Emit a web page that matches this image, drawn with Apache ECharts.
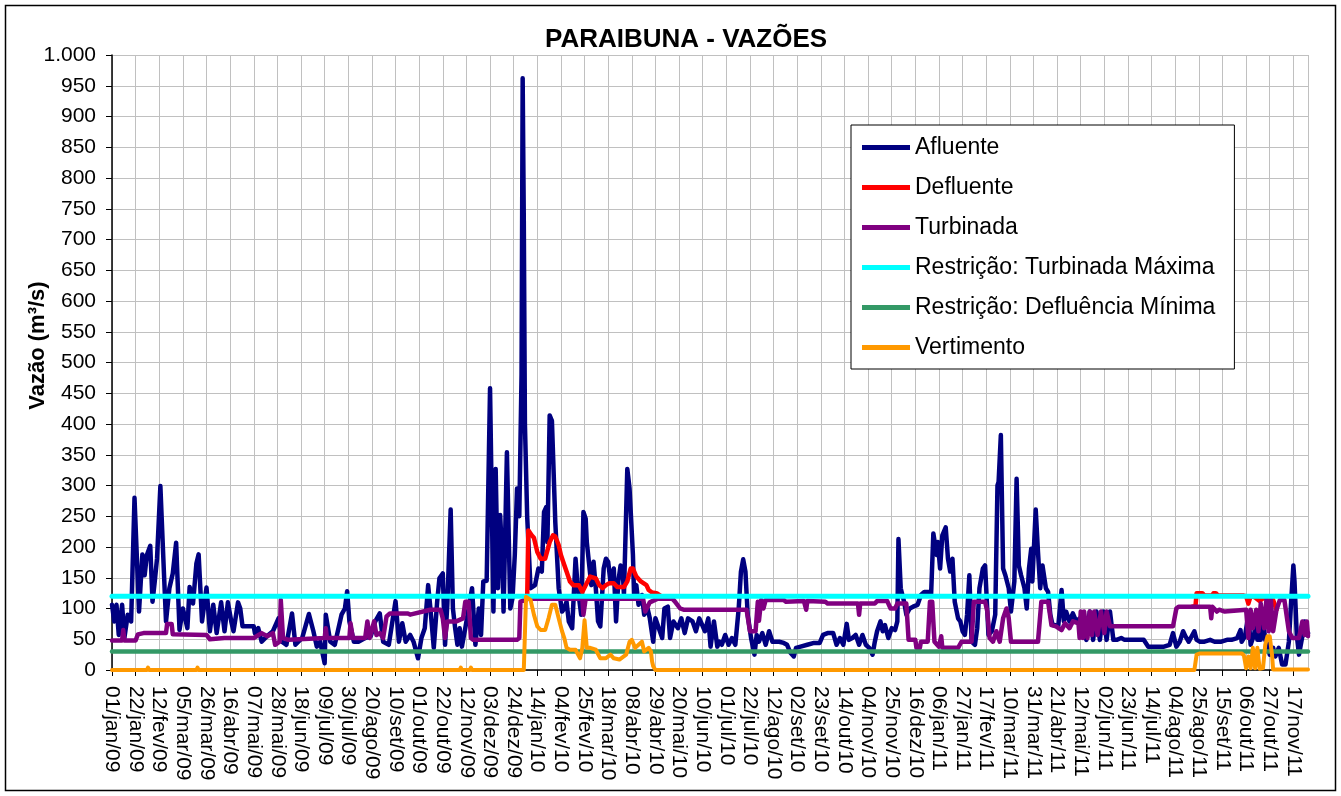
<!DOCTYPE html>
<html>
<head>
<meta charset="utf-8">
<title>Paraibuna - Vazões</title>
<script src="https://cdn.jsdelivr.net/npm/echarts/dist/echarts.min.js"></script>
<style>
  html, body { margin: 0; padding: 0; background: #fff; }
  #main { width: 1341px; height: 796px; }
</style>
</head>
<body>
<div id="main"></div>
<script>
// dias contados a partir de 01/jan/2009 -> [dia, vazão m³/s]
var START = [2009, 0, 1];
var LAST_DAY = 1063;
var MESES = ['jan', 'fev', 'mar', 'abr', 'mai', 'jun', 'jul', 'ago', 'set', 'out', 'nov', 'dez'];

var afluente = [
  [0,106],[2,79],[4,106],[6,57],[9,106],[11,52],[14,90],[17,79],[20,280],[24,95],[27,188],[29,154],[31,187],[34,202],[36,111],[38,144],[40,181],[43,299],[46,165],[48,79],[51,133],[54,157],[57,207],[60,65],[63,100],[67,68],[69,135],[72,108],[75,173],[77,188],[80,79],[84,134],[87,63],[90,106],[93,60],[97,110],[100,63],[103,110],[106,79],[108,63],[112,110],[114,100],[116,71],[120,71],[126,71],
  [127,60],[130,68],[133,46],[139,57],[143,63],[148,84],[151,46],[155,41],[160,92],[163,41],[169,52],[175,91],[179,63],[182,38],[185,46],[189,11],[190,90],[194,46],[198,41],[204,90],[207,100],[209,128],[211,79],[215,46],[219,46],[225,52],[230,55],[234,79],[238,92],[241,46],[246,41],[252,112],[255,46],[258,76],[261,46],[265,57],
  [268,46],[272,19],[275,52],[278,68],[281,138],[283,100],[286,36],[289,111],[291,149],[294,157],[296,41],[298,106],[301,261],[303,100],[305,68],[307,41],[309,68],[311,38],[314,68],[317,100],[320,133],[323,41],[326,100],[328,57],[330,144],[333,145],[336,458],[339,95],[341,327],[343,133],[345,252],[347,176],[348,95],[351,354],[354,100],[356,117],[358,187],[360,295],[362,250],[364,480],[365,962],[366,730],[367,400],[369,250],[372,133],[376,138],[379,165],[382,160],[384,257],[386,265],[387,208],[389,414],[391,405],[394,240],[397,133],[400,95],
  [402,100],[404,111],[406,79],[409,68],[412,181],[414,133],[417,90],[419,257],[421,246],[422,208],[426,138],[428,176],[430,133],[432,79],[434,71],[437,165],[439,181],[441,176],[443,144],[446,165],[448,79],[450,144],[452,170],[454,160],[455,122],[458,327],[460,295],[463,187],[464,122],[466,138],[468,106],[471,122],[473,90],[476,100],[478,84],[481,46],[483,84],[486,68],[489,52],[491,100],[494,103],[496,52],[499,79],[503,68],[506,84],[509,60],[512,84],[516,79],[519,63],[522,84],[527,63],[530,84],[532,38],[535,79],[538,38],[540,46],
  [542,41],[545,57],[548,41],[551,52],[554,41],[557,100],[559,160],[561,180],[563,160],[565,90],[568,52],[571,25],[573,57],[575,46],[578,60],[581,41],[584,63],[587,46],[593,46],[597,44],[600,41],[603,28],[606,22],[608,36],[612,38],[618,41],[624,44],[629,44],[632,57],[636,60],[641,60],[644,41],[647,52],[650,41],[653,75],[655,49],[658,52],[661,57],[664,41],[667,57],[670,41],[673,36],[676,25],[678,46],
  [680,63],[683,79],[685,63],[687,73],[690,52],[693,68],[696,65],[698,79],[699,213],[701,133],[704,111],[706,90],[709,100],[712,103],[716,106],[719,122],[722,127],[726,127],[728,122],[730,222],[733,187],[734,208],[736,165],[738,219],[741,232],[743,181],[745,160],[747,181],[749,111],[752,84],[754,79],[756,63],[758,57],[760,90],[762,154],[764,46],[767,41],[769,68],[771,133],[774,165],[776,170],[779,57],[782,63],[785,90],[787,300],[788,306],[790,382],[792,165],[794,154],[797,133],[799,95],[802,144],[804,311],[806,170],[808,154],[811,133],[813,100],[815,165],
  [817,197],[818,144],[821,261],[823,192],[825,133],[827,170],[830,133],[832,127],[834,90],[836,73],[838,73],[841,71],[844,130],[846,79],[848,95],[851,79],[854,92],[857,79],[860,84],[863,68],[866,49],[869,95],[872,49],[875,95],[878,49],[881,95],[884,49],[887,95],[890,49],[893,49],[897,52],[900,49],[905,49],[917,49],[921,38],[926,38],[935,38],[940,41],[943,60],[946,38],[949,46],[952,63],[954,55],
  [957,46],[962,63],[964,49],[967,46],[971,46],[976,49],[980,46],[986,46],[991,49],[995,49],[1000,52],[1003,65],[1004,46],[1007,55],[1010,90],[1012,41],[1015,57],[1017,79],[1018,49],[1021,49],[1023,84],[1025,49],[1027,41],[1029,25],[1032,36],[1034,22],[1037,36],[1040,9],[1043,9],[1046,46],[1048,111],[1050,170],[1051,144],[1053,57],[1055,25],[1058,55],[1060,79],[1062,57],[1063,60]
];

// trechos em que a defluente aparece acima da turbinada
var defluenteA = [
  [366,114],[369,116],[370,227],[373,219],[375,215],[378,192],[381,181],[385,181],[389,208],[392,219],[394,217],[397,203],[399,187],[401,176],[404,160],[407,144],[410,138],[415,138],[418,127],[421,138],[425,152],[430,149],[433,138],[436,133],[439,138],[442,141],[446,141],[449,135],[455,135],[458,144],[461,165],[463,165],[466,152],[470,144],[475,138],[477,130],[480,126],[484,125],[488,120],[492,116]
];
var defluenteB = [
  [960,103],[963,104],[964,125],[969,125],[971,121],[978,121],[979,125],[981,125],[983,121],[1006,121],[1008,120],[1010,108],[1012,120],[1016,118],[1020,112],[1024,118],[1028,116],[1032,114],[1035,98]
];

var turbinada = [
  [0,48],[9,48],[10,65],[11,48],[21,48],[23,58],[28,60],[48,60],[49,75],[53,75],[54,58],[84,57],[87,50],[100,52],[126,52],
  [133,60],[138,55],[143,60],[145,41],[149,46],[150,114],[152,52],[157,49],[189,52],[190,68],[191,52],[211,52],[212,76],[214,52],[225,52],[227,79],[229,52],[233,79],[235,57],[238,60],[241,52],[244,87],[247,92],[263,92],
  [265,90],[283,98],[292,98],[294,84],[296,52],[298,79],[306,79],[312,84],[314,111],[317,111],[319,52],[321,49],[360,49],[362,52],[363,111],[368,114],[370,116],[403,116],
  [418,116],[419,90],[421,116],[472,116],[474,95],[478,110],[485,116],[498,116],[500,112],[505,100],[508,98],[540,98],
  [564,98],[567,63],[572,63],[574,111],[575,80],[577,114],[579,100],[581,114],[597,114],[599,111],[615,112],[617,98],[618,112],[634,111],[636,108],[663,108],[664,90],[665,108],[678,108],
  [680,112],[689,112],[692,100],[696,100],[698,108],[706,108],[708,49],[714,49],[715,36],[718,36],[719,46],[725,46],[727,111],[729,111],[731,46],[735,38],[737,55],[738,36],[752,36],[755,46],[764,46],[766,111],[776,111],[778,95],[780,52],[783,46],[786,63],[789,46],[792,84],[795,100],[797,84],[799,46],[813,46],[816,46],
  [823,46],[826,111],[832,111],[835,73],[839,71],[844,65],[847,76],[851,68],[854,79],[859,76],[860,52],[861,95],[863,52],[864,95],[867,52],[869,95],[871,57],[873,95],[876,57],[879,95],[882,60],[884,95],[887,71],[905,71],[943,71],[946,100],[948,103],[954,103],
  [976,103],[977,84],[978,103],[982,95],[984,98],[989,95],[990,98],[1008,98],[1010,52],[1012,98],[1014,68],[1017,98],[1019,63],[1021,108],[1024,68],[1026,114],[1028,63],[1030,114],[1032,63],[1035,98],[1038,114],[1042,114],[1043,111],[1046,63],[1049,52],[1055,52],[1058,79],[1060,57],[1062,79],[1063,55]
];

var turbinadaMaxima = [[0,120],[LAST_DAY,120]];
var defluenciaMinima = [[0,30],[LAST_DAY,30]];

var vertimento = [
  [0,0],[31,0],[32,4],[33,0],[75,0],[76,4],[77,0],[151,0],[152,3],[153,0],[191,0],[192,3],[193,0],[309,0],[310,4],[311,0],[318,0],[319,4],[320,0],
  [366,0],[368,119],[372,114],[375,90],[378,71],[381,65],[385,65],[388,84],[391,106],[394,106],[397,84],[400,63],[402,52],[404,36],[407,33],[412,33],[416,19],[418,36],[420,81],[422,36],[425,36],[430,33],[434,19],[439,19],[443,25],[446,19],[451,17],[457,25],[460,46],[462,49],[465,36],[468,41],[471,46],[473,30],[477,36],[479,30],[480,14],[481,6],[483,0],
  [577,0],[578,3],[579,0],[812,0],[813,3],[814,0],
  [962,0],[964,25],[967,27],[1004,27],[1006,24],[1008,3],[1010,22],[1012,3],[1014,36],[1016,3],[1018,36],[1020,2],[1023,3],[1025,41],[1027,55],[1029,55],[1031,25],[1032,1],[1063,1]
];

var FONT = 'Liberation Sans, Arial, sans-serif';

function dataLabel(day) {
  if (day % 21 !== 0) return '';
  var d = new Date(START[0], START[1], START[2] + day);
  var dd = d.getDate() < 10 ? '0' + d.getDate() : '' + d.getDate();
  var yy = ('' + d.getFullYear()).slice(2);
  return dd + '/' + MESES[d.getMonth()] + '/' + yy;
}

function milhar(v) {
  if (v < 1000) return '' + v;
  var r = v % 1000;
  return Math.floor(v / 1000) + '.' + ('00' + r).slice(-3);
}

function linha(name, data, color, width, z) {
  return {
    name: name,
    type: 'line',
    data: data,
    symbol: 'none',
    z: z,
    lineStyle: { color: color, width: width, cap: 'round', join: 'round' },
    itemStyle: { color: color }
  };
}

var chart = echarts.init(document.getElementById('main'), null, { renderer: 'canvas' });

var option = {
  backgroundColor: '#ffffff',
  animation: false,
  textStyle: { fontFamily: FONT },
  title: {
    text: 'PARAIBUNA - VAZÕES',
    left: 545,
    top: 27,
    padding: 0,
    textStyle: { fontFamily: FONT, fontSize: 26, fontWeight: 'bold', color: '#000' }
  },
  legend: {
    orient: 'vertical',
    left: 851,
    top: 125,
    padding: [11, 19, 10, 11],
    itemGap: 17,
    itemWidth: 48,
    itemHeight: 5,
    icon: 'rect',
    borderColor: '#000',
    borderWidth: 1,
    backgroundColor: '#fff',
    textStyle: { fontFamily: FONT, fontSize: 23, color: '#000' },
    data: ['Afluente', 'Defluente', 'Turbinada', 'Restrição: Turbinada Máxima', 'Restrição: Defluência Mínima', 'Vertimento']
  },
  grid: { left: 112, top: 55, right: 33, bottom: 126 },
  xAxis: {
    type: 'value',
    min: 0,
    max: LAST_DAY,
    interval: 21,
    axisLine: { lineStyle: { color: '#000', width: 1.5 } },
    axisTick: { show: true, length: 6, lineStyle: { color: '#000' } },
    axisLabel: {
      rotate: -90,
      margin: 16,
      fontFamily: FONT,
      fontSize: 21,
      color: '#000',
      formatter: dataLabel,
      showMaxLabel: false
    },
    splitLine: { show: true, lineStyle: { color: '#c0c0c0', width: 1 } }
  },
  yAxis: {
    type: 'value',
    min: 0,
    max: 1000,
    interval: 50,
    name: 'Vazão (m³/s)',
    nameLocation: 'middle',
    nameGap: 63,
    nameMoveOverlap: false,
    nameTextStyle: { fontFamily: FONT, fontSize: 22, fontWeight: 'bold', color: '#000', padding: [0, 0, 0, 34] },
    axisLine: { show: true, lineStyle: { color: '#000', width: 1.5 } },
    axisTick: { show: true, length: 6, lineStyle: { color: '#000' } },
    axisLabel: { fontFamily: FONT, fontSize: 21, color: '#000', margin: 16, formatter: milhar },
    splitLine: { show: true, lineStyle: { color: '#c0c0c0', width: 1 } }
  },
  graphic: [{
    type: 'rect',
    shape: { x: 5.5, y: 5.5, width: 1330, height: 785 },
    style: { fill: 'none', stroke: '#000', lineWidth: 1.5 },
    silent: true
  }],
  series: [
    linha('Afluente', afluente, '#000080', 4.5, 2),
    linha('Defluente', defluenteA, '#ff0000', 4.5, 3),
    linha('Defluente', defluenteB, '#ff0000', 4.5, 3),
    linha('Turbinada', turbinada, '#800080', 4.5, 4),
    linha('Restrição: Turbinada Máxima', turbinadaMaxima, '#00ffff', 5, 5),
    linha('Restrição: Defluência Mínima', defluenciaMinima, '#339966', 4.5, 6),
    linha('Vertimento', vertimento, '#ff9900', 4, 7)
  ]
};

chart.setOption(option);
</script>
</body>
</html>
